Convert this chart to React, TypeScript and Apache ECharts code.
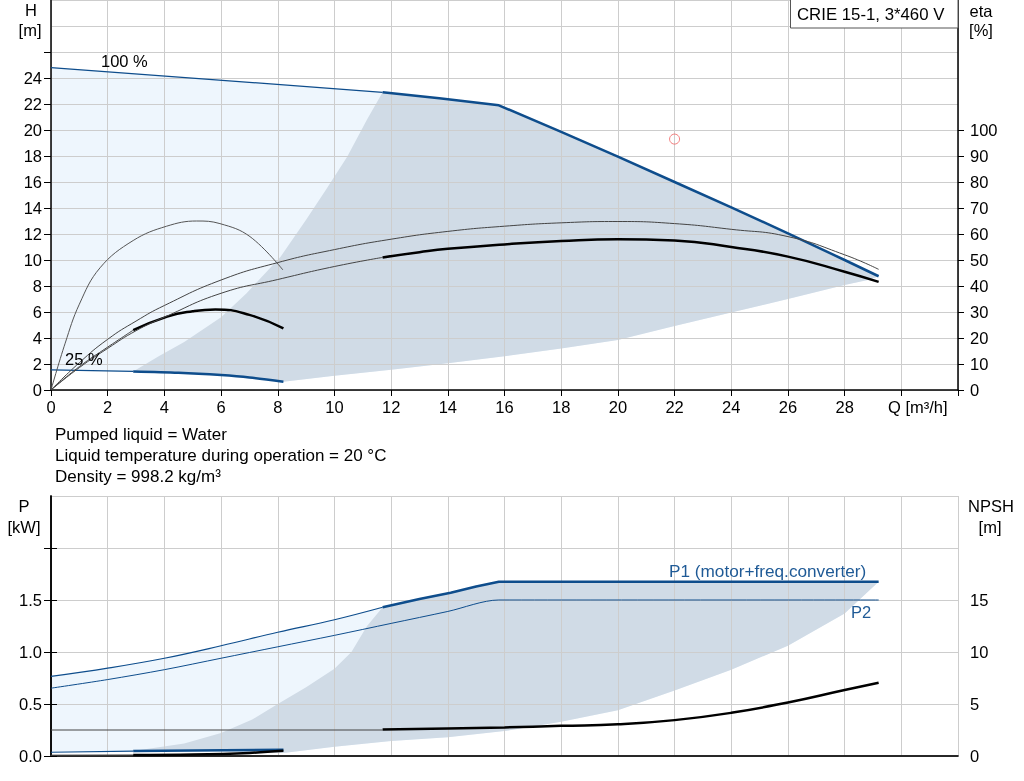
import React, { useEffect, useRef } from 'react';
import * as echarts from 'echarts';

const FONT = '"Liberation Sans", Arial, sans-serif';
const BLUE = '#0E4D8C';
const LIGHT = '#EEF6FD';
const DARK = '#D0DBE6';
const GRIDC = '#CDCDCD';

// ---------- Top chart: H [m] vs Q [m³/h] ----------
const head100Thin = [[0, 24.8], [11.7, 22.9]];
const head100Thick = [[11.7, 22.9], [13.7, 22.45], [15.8, 21.9], [18, 19.85], [20, 17.95], [22, 16.0], [24, 14.05], [26, 12.05], [28, 10.0], [29.2, 8.75]];
const head25Thin = [[0, 1.55], [2.9, 1.43]];
const head25Thick = [[2.9, 1.43], [4.5, 1.33], [6, 1.15], [7, 0.97], [8.2, 0.64]];
const headMinEdge = [[2.9, 1.43], [3.8, 2.6], [4.7, 3.7], [6, 5.6], [6.9, 7.45], [8.1, 10.25], [9, 13.1], [9.7, 15.4], [10.45, 17.95], [11.15, 20.8], [11.7, 22.9]];
const headLowerEdge = [[8.2, 0.64], [10, 1.1], [12, 1.55], [14, 2.05], [16, 2.6], [18, 3.2], [20, 3.85], [22, 4.92], [24, 5.97], [26, 7.0], [28, 8.08], [28.9, 8.5], [29.2, 8.75]];

// eta [%]
const eta25PumpThin = [[0, 0], [0.5, 18], [1, 33], [1.73, 47], [2.9, 57.5], [4.08, 63], [5.14, 65], [5.96, 64], [7.02, 59], [8.18, 46.2]];
const eta25TotalThin = [[0, 0], [1, 9], [2, 16.5], [2.9, 23]];
const eta25TotalThick = [[2.9, 23], [4.1, 28.2], [5, 30.3], [5.8, 31], [7, 28.9], [8.2, 23.7]];
const eta100PumpThin = [[0, 0], [1, 10.5], [2, 19.5], [3, 26.5], [4, 32.5], [6, 42.3], [8, 49], [10, 54], [12, 58], [14, 61], [16, 63], [18, 64.3], [20, 64.8], [22, 64], [24, 61.8], [26, 59], [28, 52], [29.2, 46.4]];
const eta100TotalThin = [[0, 0], [1, 8.6], [2, 16], [3, 22.8], [4, 28], [6, 37.2], [8, 42.5], [10, 47.5], [11.7, 51]];
const eta100TotalThick = [[11.7, 51], [13, 53], [14, 54.3], [16, 56], [18, 57.3], [20, 58], [22, 57.5], [24, 55], [26, 51.3], [28, 45.5], [29.2, 41.6]];
const dutyPoint = [[22, 19.3]];

// ---------- Bottom chart: P [kW], NPSH [m] ----------
const p1Thin = [[0, 0.765], [2, 0.845], [4, 0.94], [6, 1.06], [8, 1.19], [10, 1.31], [11.7, 1.43]];
const p1Thick = [[11.7, 1.43], [13, 1.51], [14.1, 1.57], [15, 1.63], [15.8, 1.675], [29.2, 1.675]];
const p2Line = [[0, 0.652], [2, 0.735], [4, 0.83], [6, 0.94], [8, 1.05], [10, 1.16], [12, 1.275], [14, 1.39], [15.8, 1.5], [29.2, 1.5]];
const p1LowThin = [[0, 0.036], [2.9, 0.046]];
const p1LowThick = [[2.9, 0.048], [5, 0.053], [8.2, 0.06]];
const p2LowThin = [[0, 0.008], [2.9, 0.01]];
const p2LowThick = [[2.9, 0.01], [5, 0.015], [7, 0.03], [8.2, 0.05]];
const npshThin = [[0, 2.5], [11.7, 2.5]];
const npshThick = [[11.7, 2.55], [14, 2.65], [16, 2.75], [18, 2.9], [20, 3.05], [22, 3.45], [24, 4.15], [26, 5.15], [28, 6.35], [29.2, 7.05]];
const powerMinEdge = [[2.9, 0.048], [4.7, 0.12], [6, 0.22], [7.1, 0.35], [8, 0.5], [9, 0.66], [10, 0.84], [10.6, 1.0], [11.15, 1.25], [11.7, 1.43]];
const powerLowerEdge = [[8.2, 0.03], [10, 0.09], [12, 0.145], [14, 0.18], [16, 0.24], [18, 0.33], [20, 0.44], [22, 0.63], [24, 0.83], [26, 1.06], [28, 1.37], [29.2, 1.675]];

// ticks / labels
const hTicks = [0, 2, 4, 6, 8, 10, 12, 14, 16, 18, 20, 22, 24, 26];
const etaTicks = [0, 10, 20, 30, 40, 50, 60, 70, 80, 90, 100];
const pTicks = [0, 0.5, 1, 1.5, 2];
const npshTicks = [0, 5, 10, 15, 20];

const rev = (a: number[][]) => a.slice().reverse();

const lightTop = [...head100Thin, ...head100Thick.slice(1), ...rev(headLowerEdge), ...rev(head25Thick), ...rev(head25Thin).slice(1)];
const darkTop = [...headMinEdge, ...head100Thick.slice(1), ...rev(headLowerEdge), ...rev(head25Thick).slice(1)];
const lightBottom = [...p1Thin, ...p1Thick.slice(1), ...rev(powerLowerEdge), ...rev(p1LowThick), ...rev(p1LowThin)];
const darkBottom = [...powerMinEdge, ...p1Thick.slice(1), ...rev(powerLowerEdge), ...rev(p1LowThick).slice(1)];

function poly(points: number[][], fill: string, xIdx: number, yIdx: number) {
  return {
    type: 'custom',
    xAxisIndex: xIdx,
    yAxisIndex: yIdx,
    z: 1,
    silent: true,
    data: points,
    renderItem: (params: any, api: any) => {
      if (params.dataIndex !== 0) return null;
      return {
        type: 'polygon',
        shape: { points: points.map((p) => api.coord(p)), smooth: 0 },
        style: { fill },
      };
    },
  };
}

function line(data: number[][], color: string, width: number, xIdx: number, yIdx: number, smooth: any = false) {
  return {
    type: 'line',
    data,
    xAxisIndex: xIdx,
    yAxisIndex: yIdx,
    showSymbol: false,
    symbol: 'none',
    silent: true,
    z: 5,
    smooth,
    lineStyle: { color, width },
  };
}

const labelStyle = { fontFamily: FONT, fontSize: 16.5, color: '#000' };

function txt(text: string, x: number, y: number, align = 'left', color = '#000', size = 16.5) {
  return {
    type: 'text',
    x,
    y,
    z: 20,
    style: { text, fill: color, font: `${size}px ${FONT}`, textAlign: align, textVerticalAlign: 'middle' },
  };
}

export default function App() {
  const ref = useRef<HTMLDivElement>(null);
  useEffect(() => {
    const chart = echarts.init(ref.current as HTMLDivElement, null, { renderer: 'svg' });
    const option: any = {
      animation: false,
      grid: [
        { left: 51, top: 0, width: 907, height: 390 },
        { left: 51, top: 496, width: 907, height: 260 },
      ],
      xAxis: [
        {
          gridIndex: 0, type: 'value', min: 0, max: 32, interval: 2, z: 2,
          axisLine: { lineStyle: { color: '#000', width: 1.5 } },
          axisTick: { show: true, length: 6, lineStyle: { color: '#000' } },
          axisLabel: { ...labelStyle, margin: 8, formatter: (v: number) => (v <= 28 ? String(v) : '') },
          splitLine: { show: true, lineStyle: { color: GRIDC, width: 1 } },
        },
        {
          gridIndex: 1, type: 'value', min: 0, max: 32, interval: 2, z: 2,
          axisLine: { lineStyle: { color: '#888', width: 1.5 } },
          axisTick: { show: false },
          axisLabel: { show: false },
          splitLine: { show: true, lineStyle: { color: GRIDC, width: 1 } },
        },
        {
          gridIndex: 1, type: 'value', position: 'top', min: 0, max: 32, z: 2,
          axisLine: { lineStyle: { color: '#000', width: 1.5 } },
          axisTick: { show: false },
          axisLabel: { show: false },
          splitLine: { show: false },
        },
      ],
      yAxis: [
        {
          gridIndex: 0, type: 'value', position: 'left', min: 0, max: 30, interval: 2, z: 2,
          axisLine: { show: true, lineStyle: { color: '#000', width: 1.5 } },
          axisTick: { show: true, length: 7, customValues: hTicks, lineStyle: { color: '#000' } },
          axisLabel: { ...labelStyle, margin: 9, formatter: (v: number) => (v <= 24 ? String(v) : '') },
          splitLine: { show: false },
        },
        {
          gridIndex: 0, type: 'value', position: 'right', min: 0, max: 150, interval: 10, z: 2,
          axisLine: { show: true, lineStyle: { color: '#000', width: 1.5 } },
          axisTick: { show: true, length: 6, customValues: etaTicks, lineStyle: { color: '#000' } },
          axisLabel: { ...labelStyle, margin: 12, formatter: (v: number) => (v <= 100 ? String(v) : '') },
          splitLine: { show: false },
        },
        {
          gridIndex: 0, type: 'value', position: 'left', min: 0, max: 30, interval: 2, z: 2,
          axisLine: { show: false }, axisTick: { show: false }, axisLabel: { show: false },
          splitLine: { show: true, lineStyle: { color: GRIDC, width: 1 } },
        },
        {
          gridIndex: 1, type: 'value', position: 'left', min: 0, max: 2.5, interval: 0.5, z: 2,
          axisLine: { show: true, lineStyle: { color: '#000', width: 1.5 } },
          axisTick: { show: true, length: 7, customValues: pTicks, lineStyle: { color: '#000' } },
          axisLabel: { ...labelStyle, margin: 9, formatter: (v: number) => (v <= 1.5 ? v.toFixed(1) : '') },
          splitLine: { show: false },
        },
        {
          gridIndex: 1, type: 'value', position: 'right', min: 0, max: 25, interval: 5, z: 2,
          axisLine: { show: true, lineStyle: { color: '#000', width: 1.5 } },
          axisTick: { show: true, length: 6, customValues: npshTicks, lineStyle: { color: '#000' } },
          axisLabel: { ...labelStyle, margin: 12, formatter: (v: number) => (v <= 15 ? String(v) : '') },
          splitLine: { show: false },
        },
        {
          gridIndex: 1, type: 'value', position: 'left', min: 0, max: 2.5, interval: 0.5, z: 2,
          axisLine: { show: false }, axisTick: { show: false }, axisLabel: { show: false },
          splitLine: { show: true, lineStyle: { color: GRIDC, width: 1 } },
        },
      ],
      series: [
        poly(lightTop, LIGHT, 0, 0),
        poly(darkTop, DARK, 0, 0),
        line(head100Thin, BLUE, 1.2, 0, 0),
        line(head100Thick, BLUE, 2.5, 0, 0),
        line(head25Thin, BLUE, 1.2, 0, 0),
        line(head25Thick, BLUE, 2.5, 0, 0, 0.3),
        line(eta25PumpThin, '#555', 1, 0, 1, 0.4),
        line(eta25TotalThin, '#444', 1, 0, 1, 0.5),
        line(eta25TotalThick, '#000', 2.5, 0, 1, 0.5),
        line(eta100PumpThin, '#444', 1, 0, 1, 0.5),
        line(eta100TotalThin, '#444', 1, 0, 1, 0.5),
        line(eta100TotalThick, '#000', 2.5, 0, 1, 0.5),
        {
          type: 'scatter', xAxisIndex: 0, yAxisIndex: 0, data: dutyPoint, symbol: 'circle', symbolSize: 10, z: 6, silent: true,
          itemStyle: { color: 'rgba(255,255,255,0)', borderColor: '#F06060', borderWidth: 1 },
        },
        poly(lightBottom, LIGHT, 1, 3),
        poly(darkBottom, DARK, 1, 3),
        line(p1Thin, BLUE, 1.2, 1, 3, 0.4),
        line(p1Thick, BLUE, 2.5, 1, 3),
        line(p2Line, BLUE, 1, 1, 3, 0.3),
        line(p1LowThin, BLUE, 1.2, 1, 3),
        line(p1LowThick, BLUE, 2.5, 1, 3),
        line(p2LowThin, '#444', 1, 1, 3),
        line(p2LowThick, '#000', 2.5, 1, 3, 0.4),
        line(npshThin, '#444', 1, 1, 4),
        line(npshThick, '#000', 2.5, 1, 4, 0.5),
      ],
      graphic: [
        txt('H', 31, 10, 'center'),
        txt('[m]', 30, 30, 'center'),
        txt('eta', 981, 11, 'center'),
        txt('[%]', 981, 30, 'center'),
        txt('P', 24, 506, 'center'),
        txt('[kW]', 24, 527, 'center'),
        txt('NPSH', 991, 506, 'center'),
        txt('[m]', 990, 527, 'center'),
        txt('100 %', 101, 61),
        txt('25 %', 65, 359),
        txt('Q [m³/h]', 888, 407),
        txt('P1 (motor+freq.converter)', 669, 571, 'left', '#1F5A96', 17.2),
        txt('P2', 851, 612, 'left', '#1F5A96'),
        txt('Pumped liquid = Water', 55, 434, 'left', '#000', 17),
        txt('Liquid temperature during operation = 20 °C', 55, 455, 'left', '#000', 17),
        txt('Density = 998.2 kg/m³', 55, 476, 'left', '#000', 17),
        {
          type: 'rect', z: 19,
          shape: { x: 790.5, y: -1, width: 167.5, height: 29 },
          style: { fill: '#fff', stroke: '#555', lineWidth: 1 },
        },
        txt('CRIE 15-1, 3*460 V', 797, 14, 'left', '#000', 16.8),
      ],
    };
    chart.setOption(option);
    return () => chart.dispose();
  }, []);
  return <div ref={ref} style={{ position: 'fixed', left: 0, top: 0, width: 1024, height: 781 }} />;
}
